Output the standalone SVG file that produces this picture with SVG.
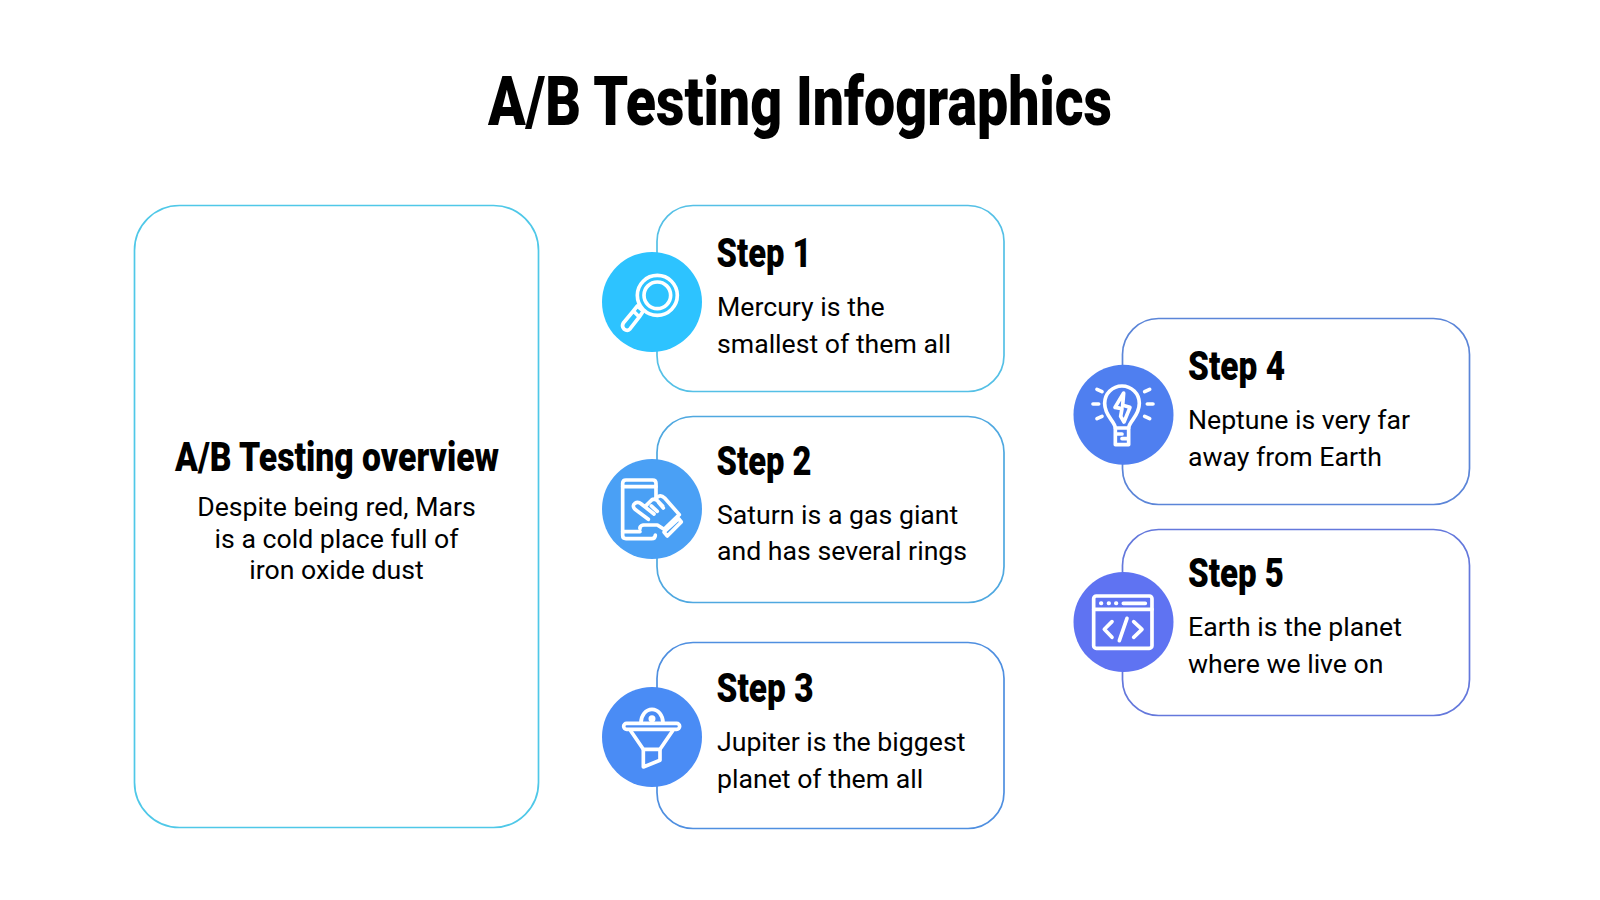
<svg xmlns="http://www.w3.org/2000/svg" width="1600" height="900" viewBox="0 0 1600 900">
<style>
text{fill:#000}
.title{font:900 69px Roboto,"Liberation Sans",sans-serif}
.head{font:900 40px Roboto,"Liberation Sans",sans-serif}
.body{font:400 26.67px Roboto,"Liberation Sans",sans-serif}
.mid{text-anchor:middle}
.card{fill:#fff;stroke-width:1.7}
.ico{fill:none;stroke:#fff;stroke-width:11;stroke-linecap:round;stroke-linejoin:round}
</style>
<rect width="1600" height="900" fill="#fff"/>
<text id="title" class="title" x="488" y="125" textLength="624" lengthAdjust="spacingAndGlyphs">A/B Testing Infographics</text>
<g id="overview">
<rect class="card" x="134.500" y="205.500" width="404" height="622" rx="45" stroke="#4FC8E8"/>
<text class="head" x="175" y="471" textLength="324" lengthAdjust="spacingAndGlyphs">A/B Testing overview</text>
<text class="body mid" x="336.500" y="516">Despite being red, Mars</text>
<text class="body mid" x="336.500" y="548">is a cold place full of</text>
<text class="body mid" x="336.500" y="579">iron oxide dust</text>
</g>
<g id="step1">
<rect class="card" x="657" y="205.500" width="347" height="186" rx="36" stroke="#55C0E6"/>
<circle cx="652" cy="302" r="50" fill="#2DC3FF"/>
<g class="ico" transform="translate(580 237) scale(.3333)">
<circle cx="232" cy="175" r="60"/><circle cx="232" cy="175" r="40"/>
<path d="M190 222L172 207L160 222L178 240ZM160 222L130 258Q124 268 132 276Q142 284 150 276L178 240"/>
</g>
<text class="head" x="716.500" y="267" textLength="95" lengthAdjust="spacingAndGlyphs">Step 1</text>
<text class="body" x="717" y="316">Mercury is the</text>
<text class="body" x="717" y="352.700">smallest of them all</text>
</g>
<g id="step2">
<rect class="card" x="657" y="416.500" width="347" height="186" rx="36" stroke="#4FA8E0"/>
<circle cx="652" cy="509" r="50" fill="#4AA0F5"/>
<g class="ico" transform="translate(580 440) scale(.3333)">
<path d="M228 178V130Q228 120 218 120H138Q128 120 128 130V286Q128 296 138 296H215Q226 296 226 285"/>
<path d="M128 140H228M128 275H180"/>
<path d="M205 238L165 208Q155 197 165 190Q174 184 184 192L222 222M195 200L215 180Q222 174 232 182L248 198M222 178L238 168Q246 166 254 174L298 224L252 268L232 255H190Q178 258 180 266M214 198L232 214M236 188L250 204"/>
<path d="M252 276L296 236L304 246L262 288Z"/>
</g>
<text class="head" x="716.500" y="474.500" textLength="95" lengthAdjust="spacingAndGlyphs">Step 2</text>
<text class="body" x="717" y="524">Saturn is a gas giant</text>
<text class="body" x="717" y="560">and has several rings</text>
</g>
<g id="step3">
<rect class="card" x="657" y="642.500" width="347" height="186" rx="36" stroke="#4F8FE0"/>
<circle cx="652" cy="737" r="50" fill="#4A8CF5"/>
<g class="ico" transform="translate(580 662) scale(.3333)">
<path d="M183 182A33 40 0 0 1 249 182"/><circle cx="216" cy="170" r="5"/>
<rect x="131" y="184" width="168" height="18" rx="9"/>
<path d="M152 206L190 262H240L278 206"/>
<path d="M190 262V315L240 295V262"/>
</g>
<text class="head" x="716.500" y="701.500" textLength="97" lengthAdjust="spacingAndGlyphs">Step 3</text>
<text class="body" x="717" y="750.700">Jupiter is the biggest</text>
<text class="body" x="717" y="788">planet of them all</text>
</g>
<g id="step4">
<rect class="card" x="1122.500" y="318.500" width="347" height="186" rx="36" stroke="#5B85D8"/>
<circle cx="1123.500" cy="414.700" r="50" fill="#4F7FF0"/>
<g class="ico" transform="translate(1042 348) scale(.3333)">
<path d="M220 240C218 218 188 205 188 166A52 52 0 0 1 292 166C292 205 262 218 260 240Z"/>
<path d="M220 240V290H260V240M220 258H240M240 272H260"/>
<path d="M245 135L219 178L240 182L236 205L246 222L264 178L242 172L245 135Z"/>
<path d="M165 124L180 131M153 168H170M165 212L180 205M323 124L308 131M333 168H316M323 212L308 205"/>
</g>
<text class="head" x="1188" y="380" textLength="97" lengthAdjust="spacingAndGlyphs">Step 4</text>
<text class="body" x="1188" y="429">Neptune is very far</text>
<text class="body" x="1188" y="466">away from Earth</text>
</g>
<g id="step5">
<rect class="card" x="1122.500" y="529.500" width="347" height="186" rx="36" stroke="#6478DC"/>
<circle cx="1123.500" cy="622" r="50" fill="#5F73F2"/>
<g class="ico" transform="translate(1042 550) scale(.3333)">
<rect x="155" y="138" width="175" height="157" rx="8"/>
<path d="M155 178H330M244 160H310M210 215L187 238L210 262M275 215L300 238L275 262M255 205L232 272"/>
<path d="M177 160H178M200 160H201M222 160H223" stroke-width="12"/>
</g>
<text class="head" x="1188" y="587" textLength="96" lengthAdjust="spacingAndGlyphs">Step 5</text>
<text class="body" x="1188" y="635.500">Earth is the planet</text>
<text class="body" x="1188" y="673">where we live on</text>
</g>
</svg>
